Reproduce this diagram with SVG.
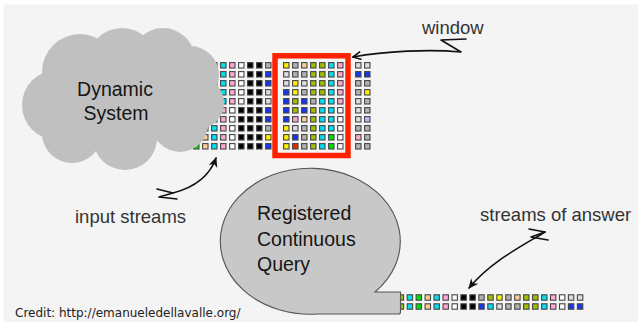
<svg xmlns="http://www.w3.org/2000/svg" xmlns:xlink="http://www.w3.org/1999/xlink" width="638" height="322" viewBox="0 0 638 322">
  <style>
    .lbl{font-family:"Liberation Sans",Arial,sans-serif;font-size:18.5px;fill:#333}
    .big{font-family:"Liberation Sans",Arial,sans-serif;font-size:19.5px;fill:#151515}
    .credit{font-family:"DejaVu Sans",Verdana,sans-serif;font-size:12px;fill:#222}
    .W{fill:#ffffff}.K{fill:#000000}.G{fill:#b2b2b2}.L{fill:#dedede}.B{fill:#1438f2}
    .Y{fill:#fff000}.C{fill:#00e2f2}.P{fill:#ffa8d6}.O{fill:#9fbf00}.N{fill:#00e000}
    .E{fill:#ffcc99}.R{fill:#f02800}.V{fill:#ccb2ff}
    .wire{fill:none;stroke:#111;stroke-width:1.6;stroke-linecap:round;stroke-linejoin:round}
  </style>
  <defs>
    <rect id="k" width="5.4" height="5.4" stroke="#454545" stroke-width="1.1"/>
    <marker id="open" viewBox="0 0 10 10" refX="9" refY="5" markerWidth="10" markerHeight="10" markerUnits="userSpaceOnUse" orient="auto">
      <path d="M1,1 L9,5 L1,9" fill="none" stroke="#111" stroke-width="1.6"/>
    </marker>
    <marker id="solid" viewBox="0 0 10 10" refX="9" refY="5" markerWidth="10" markerHeight="10" markerUnits="userSpaceOnUse" orient="auto">
      <path d="M0,0.5 L10,5 L0,9.5 L3,5 Z" fill="#111"/>
    </marker>
  </defs>

  <!-- page -->
  <rect width="638" height="322" fill="#ffffff"/>
  <rect x="3.5" y="4.5" width="635" height="318" fill="#f4f4f4"/>

  <!-- input streams: one row per stream -->
  <g id="streams">
    <g transform="translate(0,62.6)">
      <use href="#k" x="193.6" class="C"/><use href="#k" x="202.6" class="N"/><use href="#k" x="211.6" class="E"/><use href="#k" x="220.6" class="C"/><use href="#k" x="229.6" class="P"/><use href="#k" x="238.6" class="W"/><use href="#k" x="247.6" class="K"/><use href="#k" x="256.6" class="K"/><use href="#k" x="265.6" class="G"/>
      <use href="#k" x="283.6" class="Y"/><use href="#k" x="292.6" class="G"/><use href="#k" x="301.6" class="E"/><use href="#k" x="310.6" class="O"/><use href="#k" x="319.6" class="O"/><use href="#k" x="328.6" class="C"/><use href="#k" x="337.6" class="P"/>
      <use href="#k" x="355.6" class="L"/><use href="#k" x="364.6" class="L"/>
    </g>
    <g transform="translate(0,71.6)">
      <use href="#k" x="193.6" class="C"/><use href="#k" x="202.6" class="N"/><use href="#k" x="211.6" class="E"/><use href="#k" x="220.6" class="C"/><use href="#k" x="229.6" class="P"/><use href="#k" x="238.6" class="W"/><use href="#k" x="247.6" class="K"/><use href="#k" x="256.6" class="K"/><use href="#k" x="265.6" class="B"/>
      <use href="#k" x="283.6" class="L"/><use href="#k" x="292.6" class="G"/><use href="#k" x="301.6" class="G"/><use href="#k" x="310.6" class="O"/><use href="#k" x="319.6" class="O"/><use href="#k" x="328.6" class="C"/><use href="#k" x="337.6" class="P"/>
      <use href="#k" x="355.6" class="B"/><use href="#k" x="364.6" class="B"/>
    </g>
    <g transform="translate(0,80.6)">
      <use href="#k" x="193.6" class="C"/><use href="#k" x="202.6" class="N"/><use href="#k" x="211.6" class="E"/><use href="#k" x="220.6" class="C"/><use href="#k" x="229.6" class="P"/><use href="#k" x="238.6" class="W"/><use href="#k" x="247.6" class="K"/><use href="#k" x="256.6" class="K"/><use href="#k" x="265.6" class="B"/>
      <use href="#k" x="283.6" class="L"/><use href="#k" x="292.6" class="Y"/><use href="#k" x="301.6" class="L"/><use href="#k" x="310.6" class="O"/><use href="#k" x="319.6" class="O"/><use href="#k" x="328.6" class="C"/><use href="#k" x="337.6" class="P"/>
      <use href="#k" x="355.6" class="G"/><use href="#k" x="364.6" class="G"/>
    </g>
    <g transform="translate(0,89.6)">
      <use href="#k" x="193.6" class="C"/><use href="#k" x="202.6" class="N"/><use href="#k" x="211.6" class="E"/><use href="#k" x="220.6" class="C"/><use href="#k" x="229.6" class="P"/><use href="#k" x="238.6" class="W"/><use href="#k" x="247.6" class="K"/><use href="#k" x="256.6" class="K"/><use href="#k" x="265.6" class="L"/>
      <use href="#k" x="283.6" class="B"/><use href="#k" x="292.6" class="Y"/><use href="#k" x="301.6" class="G"/><use href="#k" x="310.6" class="O"/><use href="#k" x="319.6" class="O"/><use href="#k" x="328.6" class="C"/><use href="#k" x="337.6" class="P"/>
      <use href="#k" x="355.6" class="G"/><use href="#k" x="364.6" class="Y"/>
    </g>
    <g transform="translate(0,98.6)">
      <use href="#k" x="193.6" class="C"/><use href="#k" x="202.6" class="N"/><use href="#k" x="211.6" class="E"/><use href="#k" x="220.6" class="C"/><use href="#k" x="229.6" class="P"/><use href="#k" x="238.6" class="W"/><use href="#k" x="247.6" class="K"/><use href="#k" x="256.6" class="K"/><use href="#k" x="265.6" class="L"/>
      <use href="#k" x="283.6" class="B"/><use href="#k" x="292.6" class="O"/><use href="#k" x="301.6" class="B"/><use href="#k" x="310.6" class="G"/><use href="#k" x="319.6" class="C"/><use href="#k" x="328.6" class="C"/><use href="#k" x="337.6" class="P"/>
      <use href="#k" x="355.6" class="L"/><use href="#k" x="364.6" class="G"/>
    </g>
    <g transform="translate(0,107.6)">
      <use href="#k" x="193.6" class="N"/><use href="#k" x="202.6" class="E"/><use href="#k" x="211.6" class="C"/><use href="#k" x="220.6" class="P"/><use href="#k" x="229.6" class="W"/><use href="#k" x="238.6" class="K"/><use href="#k" x="247.6" class="K"/><use href="#k" x="256.6" class="K"/><use href="#k" x="265.6" class="B"/>
      <use href="#k" x="283.6" class="B"/><use href="#k" x="292.6" class="O"/><use href="#k" x="301.6" class="B"/><use href="#k" x="310.6" class="O"/><use href="#k" x="319.6" class="C"/><use href="#k" x="328.6" class="C"/><use href="#k" x="337.6" class="W"/>
      <use href="#k" x="355.6" class="L"/><use href="#k" x="364.6" class="G"/>
    </g>
    <g transform="translate(0,116.6)">
      <use href="#k" x="193.6" class="N"/><use href="#k" x="202.6" class="E"/><use href="#k" x="211.6" class="C"/><use href="#k" x="220.6" class="P"/><use href="#k" x="229.6" class="W"/><use href="#k" x="238.6" class="K"/><use href="#k" x="247.6" class="K"/><use href="#k" x="256.6" class="K"/><use href="#k" x="265.6" class="B"/>
      <use href="#k" x="283.6" class="B"/><use href="#k" x="292.6" class="P"/><use href="#k" x="301.6" class="E"/><use href="#k" x="310.6" class="O"/><use href="#k" x="319.6" class="C"/><use href="#k" x="328.6" class="C"/><use href="#k" x="337.6" class="W"/>
      <use href="#k" x="355.6" class="L"/><use href="#k" x="364.6" class="V"/>
    </g>
    <g transform="translate(0,125.6)">
      <use href="#k" x="193.6" class="N"/><use href="#k" x="202.6" class="E"/><use href="#k" x="211.6" class="C"/><use href="#k" x="220.6" class="P"/><use href="#k" x="229.6" class="W"/><use href="#k" x="238.6" class="K"/><use href="#k" x="247.6" class="K"/><use href="#k" x="256.6" class="K"/><use href="#k" x="265.6" class="G"/>
      <use href="#k" x="283.6" class="Y"/><use href="#k" x="292.6" class="L"/><use href="#k" x="301.6" class="G"/><use href="#k" x="310.6" class="O"/><use href="#k" x="319.6" class="C"/><use href="#k" x="328.6" class="C"/><use href="#k" x="337.6" class="W"/>
      <use href="#k" x="355.6" class="G"/><use href="#k" x="364.6" class="G"/>
    </g>
    <g transform="translate(0,134.6)">
      <use href="#k" x="193.6" class="N"/><use href="#k" x="202.6" class="E"/><use href="#k" x="211.6" class="C"/><use href="#k" x="220.6" class="P"/><use href="#k" x="229.6" class="W"/><use href="#k" x="238.6" class="K"/><use href="#k" x="247.6" class="K"/><use href="#k" x="256.6" class="K"/><use href="#k" x="265.6" class="Y"/>
      <use href="#k" x="283.6" class="Y"/><use href="#k" x="292.6" class="B"/><use href="#k" x="301.6" class="G"/><use href="#k" x="310.6" class="O"/><use href="#k" x="319.6" class="C"/><use href="#k" x="328.6" class="N"/><use href="#k" x="337.6" class="W"/>
      <use href="#k" x="355.6" class="P"/><use href="#k" x="364.6" class="G"/>
    </g>
    <g transform="translate(0,143.6)">
      <use href="#k" x="193.6" class="N"/><use href="#k" x="202.6" class="E"/><use href="#k" x="211.6" class="C"/><use href="#k" x="220.6" class="P"/><use href="#k" x="229.6" class="W"/><use href="#k" x="238.6" class="K"/><use href="#k" x="247.6" class="K"/><use href="#k" x="256.6" class="K"/><use href="#k" x="265.6" class="B"/>
      <use href="#k" x="283.6" class="Y"/><use href="#k" x="292.6" class="R"/><use href="#k" x="301.6" class="G"/><use href="#k" x="310.6" class="O"/><use href="#k" x="319.6" class="C"/><use href="#k" x="328.6" class="N"/><use href="#k" x="337.6" class="W"/>
      <use href="#k" x="355.6" class="G"/><use href="#k" x="364.6" class="G"/>
    </g>
  </g>

  <!-- window frame -->
  <g id="window">
    <rect x="275" y="55.8" width="73" height="99.7" fill="none" stroke="#ff2200" stroke-width="5.5"/>
  </g>

  <!-- Dynamic System cloud -->
  <g id="dynamic-system" fill="#c0c0c0">
    <ellipse cx="125" cy="100" rx="75" ry="45"/>
    <circle cx="57" cy="105" r="35"/>
    <circle cx="80" cy="72" r="38"/>
    <circle cx="122" cy="62" r="34"/>
    <circle cx="163" cy="60" r="32"/>
    <circle cx="190" cy="75" r="29"/>
    <circle cx="198" cy="103" r="26"/>
    <circle cx="180" cy="124" r="28"/>
    <circle cx="125" cy="138" r="32"/>
    <circle cx="72" cy="133" r="30"/>
    <text class="big" x="115" y="95.5" text-anchor="middle">Dynamic</text>
    <text class="big" x="116" y="120" text-anchor="middle">System</text>
  </g>

  <!-- stream of answers -->
  <g id="answers">
    <g transform="translate(0,294.8)">
      <use href="#k" x="398.2" class="O"/><use href="#k" x="407.2" class="C"/><use href="#k" x="416.1" class="N"/><use href="#k" x="425.1" class="E"/><use href="#k" x="434" class="C"/><use href="#k" x="443" class="P"/><use href="#k" x="452" class="W"/><use href="#k" x="460.9" class="K"/><use href="#k" x="469.9" class="K"/><use href="#k" x="478.8" class="G"/><use href="#k" x="487.8" class="O"/><use href="#k" x="496.8" class="Y"/><use href="#k" x="505.7" class="G"/><use href="#k" x="514.7" class="E"/><use href="#k" x="523.6" class="O"/><use href="#k" x="532.6" class="O"/><use href="#k" x="541.6" class="C"/><use href="#k" x="550.5" class="P"/><use href="#k" x="559.5" class="W"/><use href="#k" x="568.4" class="L"/><use href="#k" x="577.4" class="L"/>
    </g>
    <g transform="translate(0,303.8)">
      <use href="#k" x="398.2" class="O"/><use href="#k" x="407.2" class="C"/><use href="#k" x="416.1" class="N"/><use href="#k" x="425.1" class="E"/><use href="#k" x="434" class="C"/><use href="#k" x="443" class="P"/><use href="#k" x="452" class="W"/><use href="#k" x="460.9" class="K"/><use href="#k" x="469.9" class="K"/><use href="#k" x="478.8" class="B"/><use href="#k" x="487.8" class="C"/><use href="#k" x="496.8" class="L"/><use href="#k" x="505.7" class="G"/><use href="#k" x="514.7" class="G"/><use href="#k" x="523.6" class="O"/><use href="#k" x="532.6" class="O"/><use href="#k" x="541.6" class="C"/><use href="#k" x="550.5" class="P"/><use href="#k" x="559.5" class="W"/><use href="#k" x="568.4" class="B"/><use href="#k" x="577.4" class="B"/>
    </g>
  </g>

  <!-- Registered Continuous Query bubble -->
  <g id="continuous-query">
    <path d="M375,292 L400.5,292 L400.5,312 Q400.5,314 398.5,314 L318,314 A90 73 0 1 1 375,292 Z" fill="#c8c8c8" stroke="#555" stroke-width="1.1"/>
    <text class="big" x="257" y="220">Registered</text>
    <text class="big" x="257" y="245.5">Continuous</text>
    <text class="big" x="257" y="271">Query</text>
  </g>

  <!-- hand-drawn pointers -->
  <g id="connectors">
    <path class="wire" d="M466,39 L441,40 L461,52 C430,49 385,51 353,57" marker-end="url(#open)"/>
    <path class="wire" d="M157,189 L173,193 L159,197 L177,199"/>
    <path class="wire" d="M173,193 C192,188 209,178 216,158" marker-end="url(#solid)"/>
    <path class="wire" d="M529,229 L545,232 L531,237 L548,240"/>
    <path class="wire" d="M545,232 C522,246 490,262 469,288" marker-end="url(#solid)"/>
  </g>

  <!-- labels -->
  <g id="labels">
    <text class="lbl" x="422" y="34">window</text>
    <text class="lbl" x="75" y="223">input streams</text>
    <text class="lbl" x="480" y="221">streams of answer</text>
    <text class="credit" x="15" y="317">Credit: http://emanueledellavalle.org/</text>
  </g>
</svg>
